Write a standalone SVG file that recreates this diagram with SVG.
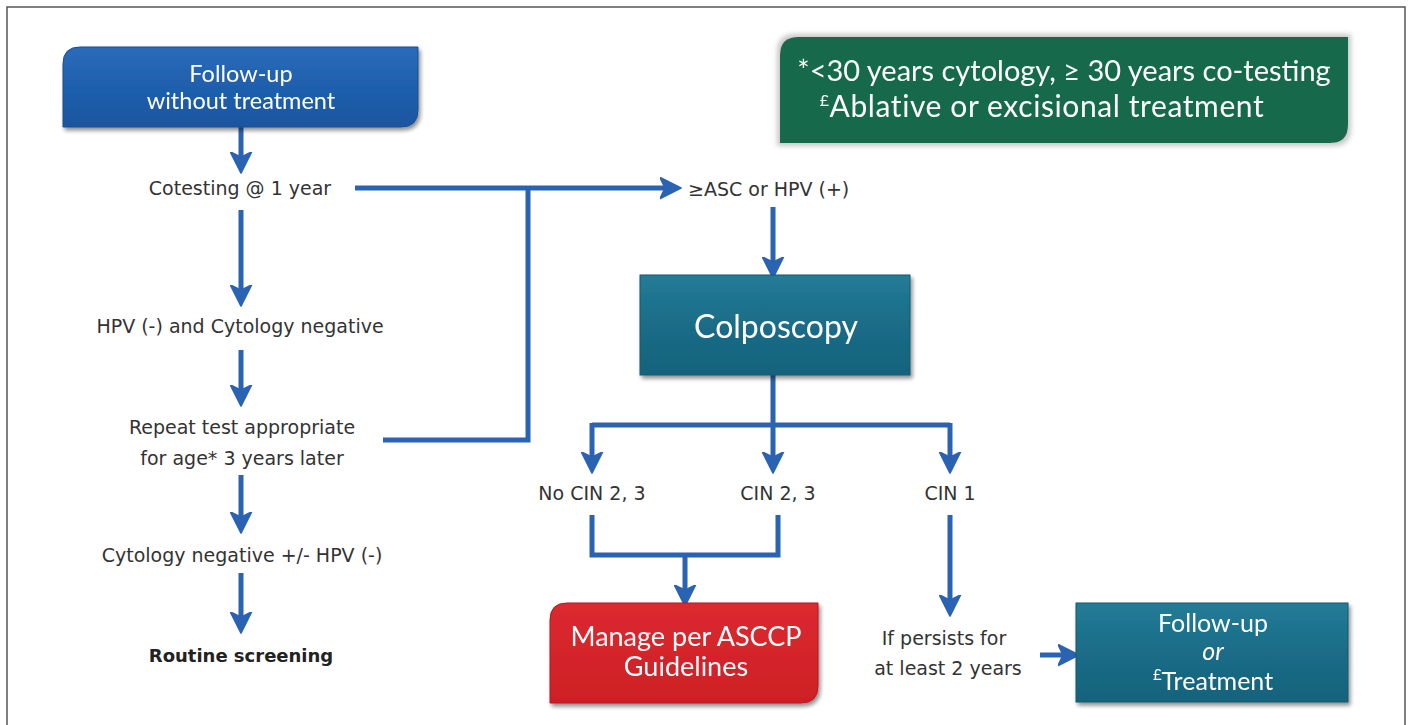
<svg xmlns="http://www.w3.org/2000/svg" width="1410" height="725" viewBox="0 0 1410 725">
  <style>
    .lbl { font-family: "DejaVu Sans", "Open Sans", sans-serif; font-size: 19px; fill: #333; text-anchor: middle; }
    .bold { font-weight: bold; font-size: 18px; fill: #222; }
    .box-t { font-family: Lato, "Open Sans", sans-serif; fill: #fff; text-anchor: middle; }
    .wire { fill: none; stroke: #2b63b3; stroke-width: 5; stroke-linejoin: miter; }
    .arrow { fill: none; stroke: #2b63b3; stroke-width: 5; marker-end: url(#head); }
  </style>
  <defs>
    <marker id="head" viewBox="0 0 10 10" refX="6" refY="5" markerWidth="4.6" markerHeight="4.6" markerUnits="strokeWidth" orient="auto">
      <path d="M0,0.5 L9,5 L0,9.5 L2.2,5 Z" fill="#2b63b3" stroke="#2b63b3" stroke-width="0.8" stroke-linejoin="round"/>
    </marker>
    <linearGradient id="gBlue" x1="0" y1="0" x2="0" y2="1">
      <stop offset="0" stop-color="#2a6cbb"/>
      <stop offset="0.5" stop-color="#1f5fac"/>
      <stop offset="1" stop-color="#1a56a0"/>
    </linearGradient>
    <linearGradient id="gTeal" x1="0" y1="0" x2="0" y2="1">
      <stop offset="0" stop-color="#237c97"/>
      <stop offset="0.5" stop-color="#1a6c87"/>
      <stop offset="1" stop-color="#17637c"/>
    </linearGradient>
    <linearGradient id="gRed" x1="0" y1="0" x2="0" y2="1">
      <stop offset="0" stop-color="#db2a30"/>
      <stop offset="1" stop-color="#ce1f26"/>
    </linearGradient>
    <filter id="shadow" x="-10%" y="-10%" width="125%" height="135%">
      <feGaussianBlur in="SourceAlpha" stdDeviation="2"/>
      <feOffset dx="2" dy="3" result="b"/>
      <feComponentTransfer><feFuncA type="linear" slope="0.45"/></feComponentTransfer>
      <feMerge><feMergeNode/><feMergeNode in="SourceGraphic"/></feMerge>
    </filter>
    <filter id="glow" x="-5%" y="-15%" width="110%" height="135%">
      <feMorphology in="SourceAlpha" operator="dilate" radius="3" result="d"/>
      <feGaussianBlur in="d" stdDeviation="2.5" result="g"/>
      <feFlood flood-color="#c8c8c8"/>
      <feComposite in2="g" operator="in"/>
      <feMerge><feMergeNode/><feMergeNode in="SourceGraphic"/></feMerge>
    </filter>
  </defs>

  <!-- frame -->
  <rect x="7" y="7" width="1398" height="730" fill="#fff" stroke="#555" stroke-width="1.5"/>

  <!-- connectors -->
  <g id="connectors">
    <path class="arrow" d="M241,127 V166"/>
    <path class="arrow" d="M241,210 V299"/>
    <path class="arrow" d="M241,350 V399"/>
    <path class="arrow" d="M241,475 V526"/>
    <path class="arrow" d="M241,573 V626"/>
    <path class="arrow" d="M355,188 H674"/>
    <path class="wire" d="M383,440 H528 V188"/>
    <path class="arrow" d="M773,207 V271"/>
    <path class="wire" d="M773,375 V425 M592,425 H950"/>
    <path class="arrow" d="M592,423 V466"/>
    <path class="arrow" d="M773,425 V466"/>
    <path class="arrow" d="M950,423 V466"/>
    <path class="wire" d="M592,515 V555 H778 V515"/>
    <path class="arrow" d="M685,555 V599"/>
    <path class="arrow" d="M950,515 V609"/>
    <path class="arrow" d="M1040,655 H1072"/>
  </g>

  <!-- nodes -->
  <g id="follow-up-start" filter="url(#shadow)">
    <path d="M63,64 Q63,47 80,47 H418 V110 Q418,127 401,127 H63 Z" fill="url(#gBlue)" stroke="#174f93" stroke-width="1"/>
    <text class="box-t" x="241" y="82" font-size="23.5">Follow-up</text>
    <text class="box-t" x="241" y="109" font-size="23.5">without treatment</text>
  </g>

  <g id="legend" filter="url(#glow)">
    <path d="M780,55 Q780,37 798,37 H1348 V125 Q1348,143 1330,143 H780 Z" fill="#166b4c"/>
    <text class="box-t" x="1064" y="81" font-size="29">*&lt;30 years cytology, ≥ 30 years co-testing</text>
    <text class="box-t" x="1042" y="117" font-size="30" letter-spacing="0.6"><tspan font-size="16" dy="-11">£</tspan><tspan dy="11">Ablative or excisional treatment</tspan></text>
  </g>

  <g id="cotesting"><text class="lbl" x="240" y="195">Cotesting @ 1 year</text></g>
  <g id="neg"><text class="lbl" x="240" y="333">HPV (-) and Cytology negative</text></g>
  <g id="repeat">
    <text class="lbl" x="242" y="434">Repeat test appropriate</text>
    <text class="lbl" x="242" y="465">for age* 3 years later</text>
  </g>
  <g id="cyto-neg"><text class="lbl" x="242" y="562">Cytology negative +/- HPV (-)</text></g>
  <g id="routine"><text class="lbl bold" x="241" y="662">Routine screening</text></g>

  <g id="asc"><text class="lbl" x="688" y="196" style="text-anchor:start">≥ASC or HPV (+)</text></g>

  <g id="colposcopy" filter="url(#shadow)">
    <rect x="640" y="275" width="270" height="100" fill="url(#gTeal)" stroke="#14586e" stroke-width="1"/>
    <text class="box-t" x="776" y="338" font-size="32">Colposcopy</text>
  </g>

  <g id="no-cin"><text class="lbl" x="592" y="500">No CIN 2, 3</text></g>
  <g id="cin23"><text class="lbl" x="778" y="500">CIN 2, 3</text></g>
  <g id="cin1"><text class="lbl" x="950" y="500">CIN 1</text></g>

  <g id="persists">
    <text class="lbl" x="944" y="645">If  persists for</text>
    <text class="lbl" x="948" y="675">at least 2 years</text>
  </g>

  <g id="manage" filter="url(#shadow)">
    <path d="M550,620 Q550,603 567,603 H818 V686 Q818,703 801,703 H550 Z" fill="url(#gRed)" stroke="#b51a20" stroke-width="1"/>
    <text class="box-t" x="686" y="646" font-size="27">Manage per ASCCP</text>
    <text class="box-t" x="686" y="676" font-size="27">Guidelines</text>
  </g>

  <g id="follow-up-treatment" filter="url(#shadow)">
    <rect x="1076" y="603" width="272" height="99" fill="url(#gTeal)" stroke="#14586e" stroke-width="1"/>
    <text class="box-t" x="1213" y="632" font-size="25">Follow-up</text>
    <text class="box-t" x="1213" y="660" font-size="25" font-style="italic">or</text>
    <text class="box-t" x="1213" y="690" font-size="25"><tspan font-size="15" dy="-10">£</tspan><tspan dy="10">Treatment</tspan></text>
  </g>
</svg>
